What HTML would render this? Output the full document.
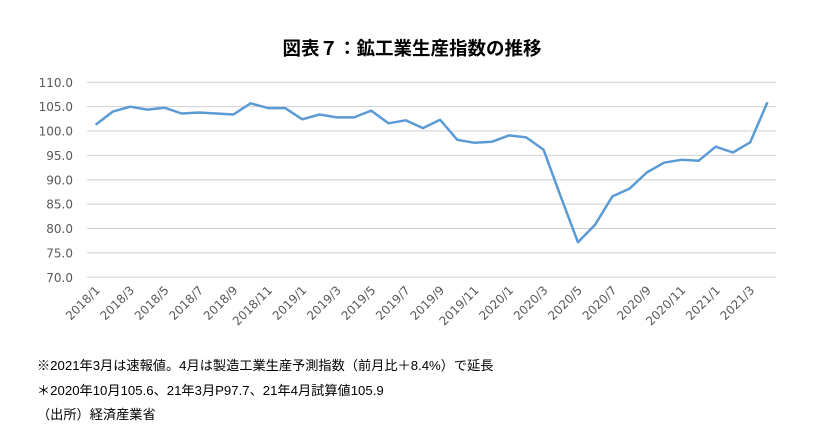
<!DOCTYPE html>
<html><head><meta charset="utf-8"><style>
body{margin:0;background:#fff;width:824px;height:443px;overflow:hidden;font-family:"Liberation Sans","Noto Sans CJK JP",sans-serif}
.note{position:absolute;left:37px;font-size:13.2px;color:#000;white-space:nowrap}
</style></head><body>
<svg id="s" width="824" height="443" style="position:absolute;left:0;top:0" font-family="Liberation Sans, Noto Sans CJK JP, sans-serif">
<text x="412" y="55" text-anchor="middle" font-size="18.5" font-weight="bold" fill="#000">図表７：鉱工業生産指数の推移</text>
</svg>
<div class="note" style="top:355px">※2021年3月は速報値。4月は製造工業生産予測指数（前月比＋8.4%）で延長</div>
<div class="note" style="top:380px">＊2020年10月105.6、21年3月P97.7、21年4月試算値105.9</div>
<div class="note" style="top:404px">（出所）経済産業省</div>
<script>
var s=document.getElementById('s'),h='';
var d=[101.3,104.0,105.0,104.4,104.8,103.6,103.8,103.6,103.4,105.7,104.7,104.7,
102.4,103.4,102.8,102.8,104.2,101.6,102.2,100.6,102.3,98.2,97.6,97.8,
99.1,98.7,96.2,86.6,77.2,80.8,86.6,88.2,91.5,93.5,94.1,93.9,
96.8,95.6,97.7,105.9];
function Y(v){return 277.3-(v-70)*4.875;}
var x0=87,w=17.225,F='DejaVu Sans, sans-serif';
for(var v=70;v<=110;v+=5){var y=Y(v);
h+='<line x1="'+x0+'" x2="776" y1="'+y+'" y2="'+y+'" stroke="#d0d0d0" stroke-width="1"/>';
h+='<text x="73" y="'+(y+4.5)+'" text-anchor="end" font-family="'+F+'" font-size="12" fill="#595959">'+v.toFixed(1)+'</text>';}
var p=[];for(var i=0;i<d.length;i++){var x=x0+w*(i+0.5);p.push(x.toFixed(1)+','+Y(d[i]).toFixed(1));
if(i%2==0){var yr=2018+Math.floor(i/12),m=i%12+1;
h+='<text transform="translate('+(x+5)+',291) rotate(-45)" text-anchor="end" font-family="'+F+'" font-size="12" fill="#595959">'+yr+'/'+m+'</text>';}}
h+='<polyline points="'+p.join(' ')+'" fill="none" stroke="#5b9bd5" stroke-width="2.5" stroke-linejoin="round"/>';
s.insertAdjacentHTML('beforeend',h);
</script>
</body></html>
